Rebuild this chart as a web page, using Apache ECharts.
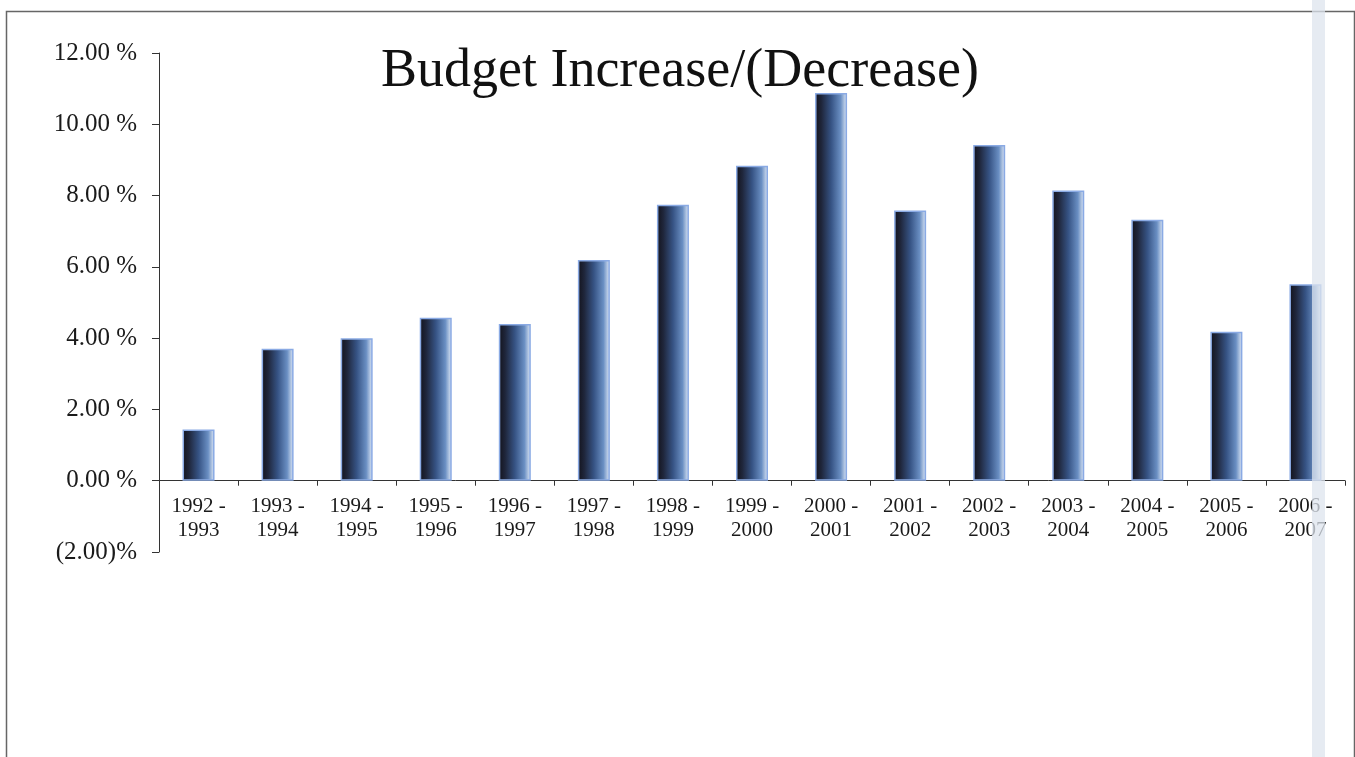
<!DOCTYPE html>
<html>
<head>
<meta charset="utf-8">
<title>Budget Increase/(Decrease)</title>
<script src="https://cdn.jsdelivr.net/npm/echarts@6/dist/echarts.min.js"></script>
<style>
  html, body { margin: 0; padding: 0; background: #ffffff; }
  #chart { width: 1355px; height: 757px; }
</style>
</head>
<body>
<div id="chart"></div>
<script>
// Fiscal-year spans
const categories = [
  '1992 -\n1993', '1993 -\n1994', '1994 -\n1995', '1995 -\n1996', '1996 -\n1997',
  '1997 -\n1998', '1998 -\n1999', '1999 -\n2000', '2000 -\n2001', '2001 -\n2002',
  '2002 -\n2003', '2003 -\n2004', '2004 -\n2005', '2005 -\n2006', '2006 -\n2007'
];

// Year-over-year budget change, percent
const budgetChange = [1.44, 3.70, 4.00, 4.57, 4.40, 6.19, 7.74, 8.84, 10.88, 7.58, 9.42, 8.14, 7.32, 4.18, 5.51];

// Value-axis range and step
const axisMin = -2;
const axisMax = 12;
const axisStep = 2;

const serif = '"Liberation Serif", "DejaVu Serif", serif';

function pctLabel(v) {
  if (v < 0) return '(' + Math.abs(v).toFixed(2) + ')%';
  return v.toFixed(2) + ' %';
}

const chart = echarts.init(document.getElementById('chart'), null, { renderer: 'canvas' });

// Main plot: value axis from -2 to 12, category axis line sits on zero.
// A second, label-only grid ends at the zero line so the year labels hang just below it.
chart.setOption({
  backgroundColor: '#ffffff',
  animation: false,
  title: {
    text: 'Budget Increase/(Decrease)',
    left: 675,
    top: 40,
    textAlign: 'center',
    textStyle: { fontFamily: serif, fontSize: 54, fontWeight: 'normal', color: '#111111' }
  },
  grid: [
    { left: 159, right: 10, top: 53, bottom: 205, containLabel: false },
    { left: 159, right: 10, top: 53, bottom: 276, containLabel: false }
  ],
  xAxis: [
    {
      type: 'category',
      gridIndex: 0,
      data: categories,
      axisLine: { onZero: true, lineStyle: { color: '#333333', width: 1 } },
      axisTick: { show: true, length: 5, inside: false, alignWithLabel: false, lineStyle: { color: '#333333' } },
      axisLabel: { show: false },
      splitLine: { show: false }
    },
    {
      type: 'category',
      gridIndex: 1,
      data: categories,
      axisLine: { show: false },
      axisTick: { show: false },
      axisLabel: {
        interval: 0, margin: 13, fontFamily: serif, fontSize: 21, color: '#1a1a1a', lineHeight: 24
      },
      splitLine: { show: false }
    }
  ],
  yAxis: [
    {
      type: 'value',
      gridIndex: 0,
      min: axisMin,
      max: axisMax,
      interval: axisStep,
      axisLine: { show: true, lineStyle: { color: '#333333', width: 1 } },
      axisTick: { show: true, length: 7, lineStyle: { color: '#333333' } },
      axisLabel: {
        margin: 22, fontFamily: serif, fontSize: 25, color: '#1a1a1a', formatter: pctLabel
      },
      splitLine: { show: false }
    },
    {
      type: 'value',
      gridIndex: 1,
      min: 0,
      max: axisMax,
      interval: axisStep,
      show: false
    }
  ],
  series: [{
    type: 'bar',
    xAxisIndex: 0,
    yAxisIndex: 0,
    data: budgetChange,
    barWidth: 32,
    itemStyle: {
      color: new echarts.graphic.LinearGradient(0, 0, 1, 0, [
        { offset: 0.0, color: '#13131c' },
        { offset: 0.2, color: '#1f263b' },
        { offset: 0.5, color: '#365384' },
        { offset: 0.8, color: '#6a8fc3' },
        { offset: 1.0, color: '#e4ecf8' }
      ]),
      borderColor: '#8aaae4',
      borderWidth: 1.5
    }
  }],
  graphic: [
    {
      type: 'rect',
      left: 4, top: 9,
      shape: { width: 1348, height: 800 },
      style: { fill: 'none', stroke: '#666666', lineWidth: 1.5 },
      z: 10, silent: true
    },
    {
      type: 'rect',
      left: 1312, top: 0,
      shape: { width: 13, height: 757 },
      style: { fill: 'rgba(222,228,238,0.75)' },
      z: 20, silent: true
    }
  ]
});
</script>
</body>
</html>
